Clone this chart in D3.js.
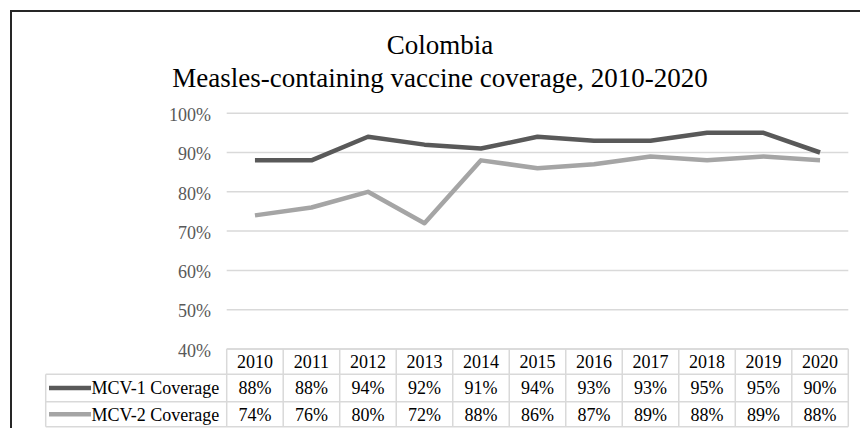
<!DOCTYPE html>
<html>
<head>
<meta charset="utf-8">
<script src="https://cdn.jsdelivr.net/npm/d3@7"></script>
</head>
<body style="margin:0;padding:0;background:#fff">
<svg id="chart" width="860" height="428" style="display:block"></svg>
<script>
const years = ["2010","2011","2012","2013","2014","2015","2016","2017","2018","2019","2020"];
const mcv1 = [88, 88, 94, 92, 91, 94, 93, 93, 95, 95, 90];
const mcv2 = [74, 76, 80, 72, 88, 86, 87, 89, 88, 89, 88];
const seriesNames = ["MCV-1 Coverage", "MCV-2 Coverage"];
const seriesColors = ["#595959", "#a5a5a5"];
const yTicks = [40, 50, 60, 70, 80, 90, 100];
const titleLines = ["Colombia", "Measles-containing vaccine coverage, 2010-2020"];

const FONT = "'Liberation Serif'";
const svg = d3.select("#chart");
const grid = "#d9d9d9";

svg.append("rect").attr("x", 11).attr("y", 11).attr("width", 900).attr("height", 460)
  .attr("fill", "none").attr("stroke", "#262626").attr("stroke-width", 2);

svg.append("g").selectAll("text").data(titleLines).join("text")
  .attr("x", 440).attr("y", (d, i) => 54 + i * 33)
  .attr("text-anchor", "middle").attr("fill", "#000")
  .style("font-family", FONT).style("font-size", "27px")
  .text(d => d);

const x = d3.scaleBand().domain(years).range([226.7, 848.3]).padding(0);
const y = d3.scaleLinear().domain([40, 100]).range([349, 113.2]);

svg.append("g").selectAll("line").data(yTicks).join("line")
  .attr("x1", x.range()[0]).attr("x2", x.range()[1])
  .attr("y1", d => y(d)).attr("y2", d => y(d))
  .attr("stroke", grid).attr("stroke-width", 1.5);

const yAxis = d3.axisLeft(y).tickValues(yTicks).tickSize(0).tickPadding(0)
  .tickFormat(d => d + "%");
const ya = svg.append("g").attr("transform", "translate(211,0)").call(yAxis);
ya.select(".domain").remove();
ya.selectAll("text").attr("fill", "#595959").attr("dy", "0.4em")
  .style("font-family", FONT).style("font-size", "18px");

const line = d3.line().x((d, i) => x(years[i]) + x.bandwidth() / 2).y(d => y(d));
[mcv2, mcv1].forEach((s, k) => {
  const idx = 1 - k;
  svg.append("path").datum(s).attr("d", line)
    .attr("fill", "none").attr("stroke", seriesColors[idx]).attr("stroke-width", 4.5)
    .attr("stroke-linejoin", "round");
});

const rowTops = [349, 374.3, 401.7, 426.7];
const legLeft = 45.7;
const tg = svg.append("g");
tg.append("line").attr("x1", x.range()[0]).attr("x2", x.range()[1]).attr("y1", rowTops[0]).attr("y2", rowTops[0])
  .attr("stroke", grid).attr("stroke-width", 1.5);
[1, 2, 3].forEach(r => {
  tg.append("line").attr("x1", legLeft).attr("x2", x.range()[1]).attr("y1", rowTops[r]).attr("y2", rowTops[r])
    .attr("stroke", grid).attr("stroke-width", 1.5);
});
const bounds = years.map(d => x(d)).concat([x.range()[1]]);
tg.selectAll("line.v").data(bounds).join("line").attr("class", "v")
  .attr("x1", d => d).attr("x2", d => d).attr("y1", rowTops[0]).attr("y2", rowTops[3])
  .attr("stroke", grid).attr("stroke-width", 1.5);
tg.append("line").attr("x1", legLeft).attr("x2", legLeft).attr("y1", rowTops[1]).attr("y2", rowTops[3])
  .attr("stroke", grid).attr("stroke-width", 1.5);

tg.selectAll("text.yr").data(years).join("text").attr("class", "yr")
  .attr("x", d => x(d) + x.bandwidth() / 2).attr("y", (rowTops[0] + rowTops[1]) / 2)
  .attr("dy", "0.35em").attr("text-anchor", "middle").attr("fill", "#000")
  .style("font-family", FONT).style("font-size", "18px")
  .text(d => d);

[mcv1, mcv2].forEach((s, r) => {
  const cy = (rowTops[r + 1] + rowTops[r + 2]) / 2;
  tg.append("line").attr("x1", 49).attr("x2", 91).attr("y1", cy).attr("y2", cy)
    .attr("stroke", seriesColors[r]).attr("stroke-width", 4.5);
  tg.append("text").attr("x", 91.5).attr("y", cy).attr("dy", "0.35em").attr("fill", "#000")
    .style("font-family", FONT).style("font-size", "18px").text(seriesNames[r]);
  tg.selectAll("text.v" + r).data(s).join("text").attr("class", "v" + r)
    .attr("x", (d, i) => x(years[i]) + x.bandwidth() / 2).attr("y", cy).attr("dy", "0.35em")
    .attr("text-anchor", "middle").attr("fill", "#000")
    .style("font-family", FONT).style("font-size", "18px")
    .text(d => d + "%");
});
</script>
</body>
</html>
